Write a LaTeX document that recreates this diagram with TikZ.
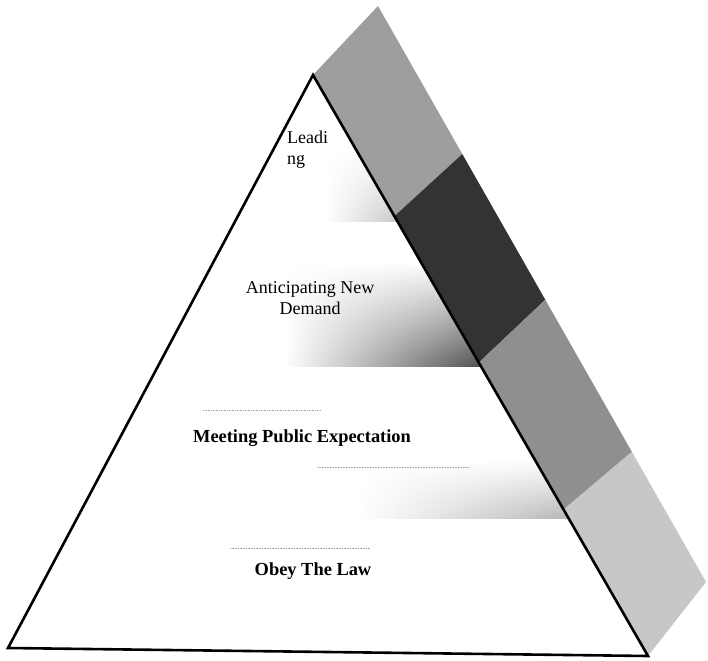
\documentclass[tikz,border=0pt]{standalone}
\usepackage{fontspec}
\setmainfont{Liberation Serif}
\usetikzlibrary{calc,fadings}
\begin{document}
\begin{tikzpicture}[x=1pt,y=-1pt,
  edge/.style={line width=2.6pt, line join=miter},
  tier/.style={font=\fontsize{18}{21}\selectfont, inner sep=0pt},
  tierbold/.style={font=\fontsize{18.4}{21}\selectfont\bfseries, inner sep=0pt},
  guide/.style={black!35, densely dotted, line width=0.6pt}]
\useasboundingbox (0,0) rectangle (708,660);
% pyramid corners
\coordinate (apex) at (313,75);
\coordinate (bl) at (8,648);
\coordinate (br) at (648,656);
% side band outer corners
\coordinate (bandtop) at (378,6);
\coordinate (bandbot) at (706,582);
% band segment boundaries
\coordinate (l1) at ($(apex)!0.243!(br)$);
\coordinate (r1) at ($(bandtop)!0.257!(bandbot)$);
\coordinate (l2) at ($(apex)!0.495!(br)$);
\coordinate (r2) at ($(bandtop)!0.510!(bandbot)$);
\coordinate (l3) at ($(apex)!0.748!(br)$);
\coordinate (r3) at ($(bandtop)!0.774!(bandbot)$);
% side band
\fill[black!38] (apex) -- (bandtop) -- (r1) -- (l1) -- cycle;
\fill[black!80] (l1) -- (r1) -- (r2) -- (l2) -- cycle;
\fill[black!44] (l2) -- (r2) -- (r3) -- (l3) -- cycle;
\fill[black!22] (l3) -- (r3) -- (bandbot) -- (br) -- cycle;
% soft shading inside the tiers
\begin{scope}
  \clip (apex) -- (bl) -- (br) -- cycle;
  \shade[left color=white, right color=black!24, path fading=north] (325,148) rectangle (405,222);
  \shade[left color=white, middle color=black!45, right color=black!72, path fading=north] (285,262) rectangle (490,367);
  \shade[left color=white, right color=black!30, path fading=north] (360,460) rectangle (580,518);
\end{scope}
% faint tier guides
\draw[guide] (203,410) -- (320,410);
\draw[guide] (317,467) -- (470,467);
\draw[guide] (230,548) -- (370,548);
% pyramid outline
\draw[edge] (apex) -- (bl) -- (br) -- cycle;
% tier labels
\node[tier, anchor=north west, align=left] (leading) at (287,131) {Leadi\\ng};
\node[tier, anchor=north, align=center] (anticipating) at (310,281) {Anticipating New\\Demand};
\node[tierbold, anchor=base] (meeting) at (302,442.5) {Meeting Public Expectation};
\node[tierbold, anchor=base] (obey) at (313,575.5) {Obey The Law};
\end{tikzpicture}
\end{document}
